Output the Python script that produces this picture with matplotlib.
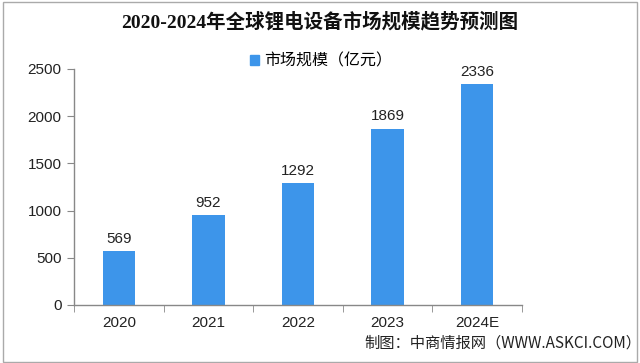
import matplotlib
matplotlib.use("Agg")
import matplotlib.pyplot as plt
from matplotlib.patches import Rectangle, Patch

plt.rcParams['font.family'] = ['Liberation Sans', 'Noto Sans CJK SC', 'DejaVu Sans']

years = ["2020", "2021", "2022", "2023", "2024E"]
values = [569, 952, 1292, 1869, 2336]
yticks = [0, 500, 1000, 1500, 2000, 2500]
title = "2020-2024年全球锂电设备市场规模趋势预测图"
legend_label = "市场规模（亿元）"
source = "制图：中商情报网（WWW.ASKCI.COM）"

bar_color = "#3d95ea"
fig = plt.figure(figsize=(6.4, 3.63), dpi=100)
ax = fig.add_axes([74/640, 1-305/363, 448/640, 236/363])

x = list(range(len(years)))
ax.bar(x, values, width=0.36, color=bar_color, zorder=2)
for xi, v in zip(x, values):
    ax.text(xi, v + 55, str(v), ha='center', va='bottom', fontsize=11, color='#222222')

ax.set_xlim(-0.5, len(years) - 0.5)
ax.set_ylim(0, 2500)
ax.set_yticks(yticks)
ax.set_yticklabels([str(t) for t in yticks], fontsize=11, color='#222222')
ax.set_xticks(x)
ax.set_xticklabels(years, fontsize=11, color='#222222')
ax.tick_params(axis='x', length=0, pad=8)
ax.set_xticks([i - 0.5 for i in range(len(years) + 1)], minor=True)
ax.tick_params(axis='x', which='minor', length=5, color='#888888', direction='out')
ax.tick_params(axis='y', length=5, color='#888888', direction='out', pad=4)

for s in ['top', 'right']:
    ax.spines[s].set_visible(False)
for s in ['left', 'bottom']:
    ax.spines[s].set_color('#888888')
    ax.spines[s].set_linewidth(1)

fig.text(320/640, 1-22/363, title, ha='center', va='center', fontsize=14, fontweight='bold',
         color='#111111', family=['Liberation Serif', 'Noto Sans CJK SC'])
ax.legend(handles=[Patch(color=bar_color, label=legend_label)], loc='center',
          bbox_to_anchor=(321/640, 1-61/363), bbox_transform=fig.transFigure,
          frameon=False, handlelength=0.55, handleheight=0.55, handletextpad=0.3,
          prop={'family': ['Noto Sans CJK SC'], 'size': 11.5})
fig.text(641/640, 1-343/363, source, ha='right', va='center', fontsize=11, color='#222222',
         family=['Noto Sans CJK SC'])

fig.patches.append(Rectangle((0.004, 0.004), 0.992, 0.99, transform=fig.transFigure,
                             fill=False, edgecolor='#aaaaaa', linewidth=1))

fig.savefig("out.png", dpi=100)
